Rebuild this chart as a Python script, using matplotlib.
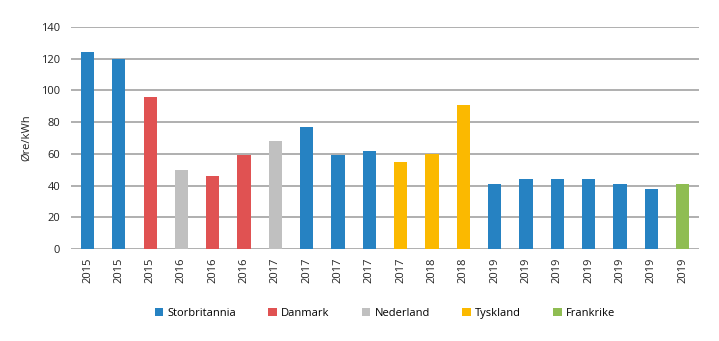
import matplotlib.pyplot as plt
from matplotlib.patches import Patch

years = ["2015", "2015", "2015", "2016", "2016", "2016", "2017", "2017", "2017", "2017",
         "2017", "2018", "2018", "2019", "2019", "2019", "2019", "2019", "2019", "2019"]
countries = ["Storbritannia", "Storbritannia", "Danmark", "Nederland", "Danmark", "Danmark",
             "Nederland", "Storbritannia", "Storbritannia", "Storbritannia", "Tyskland",
             "Tyskland", "Tyskland", "Storbritannia", "Storbritannia", "Storbritannia",
             "Storbritannia", "Storbritannia", "Storbritannia", "Frankrike"]
prices = [124, 120, 96, 50, 46, 59, 68, 77, 59, 62, 55, 60, 91, 41, 44, 44, 44, 41, 38, 41]

legend_order = ["Storbritannia", "Danmark", "Nederland", "Tyskland", "Frankrike"]
colors = {
    "Storbritannia": "#2682c2",
    "Danmark": "#e05252",
    "Nederland": "#c0c0c0",
    "Tyskland": "#fbb900",
    "Frankrike": "#8fbd52",
}

plt.rcParams['font.family'] = ['Open Sans', 'DejaVu Sans']

fig = plt.figure(figsize=(7.19, 3.41), dpi=100)
ax = fig.add_axes([0.099, 0.27, 0.873, 0.651])

x = range(len(prices))
ax.bar(x, prices, width=0.42, color=[colors[c] for c in countries], zorder=3)

ax.set_ylim(0, 140)
ax.set_yticks(range(0, 141, 20))
ax.set_xlim(-0.52, len(prices) - 0.48)
ax.set_xticks(list(x))
ax.set_xticklabels(years, rotation=90, fontsize=8, color="#222222")
ax.tick_params(axis='y', labelsize=8, labelcolor="#222222", length=0, pad=8)
ax.tick_params(axis='x', length=0, pad=6)
ax.grid(axis='y', color="#9a9a9a", linewidth=1.1, zorder=0)
for s in ax.spines.values():
    s.set_visible(False)
ax.set_ylabel("Øre/kWh", fontsize=8, color="#222222", labelpad=6)

# legend sits under the year labels, centred on the plot area
handles = [Patch(facecolor=colors[c], label=c) for c in legend_order]
ax.legend(handles=handles, loc='center', bbox_to_anchor=(0.5, -0.29), ncol=5,
          frameon=False, fontsize=8, handlelength=0.75, handleheight=0.75,
          handletextpad=0.4, columnspacing=2.9)

fig.savefig("out.png", dpi=100)
